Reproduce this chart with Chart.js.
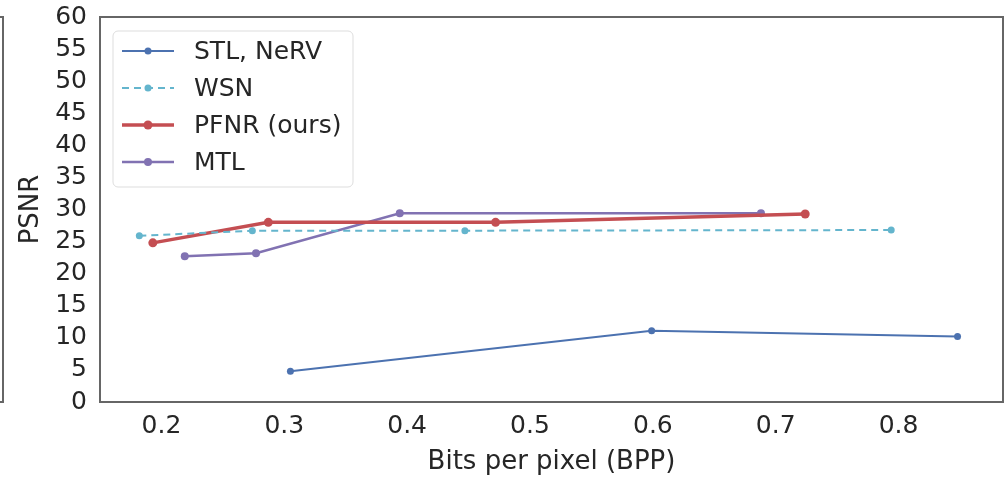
<!DOCTYPE html>
<html>
<head>
<meta charset="utf-8">
<script src="https://cdn.jsdelivr.net/npm/chart.js@4.4.1/dist/chart.umd.min.js"></script>
<style>
  html, body { margin: 0; padding: 0; background: #fff; }
  #wrap { width: 1008px; height: 478px; }
</style>
</head>
<body>
<div id="wrap"><canvas id="psnrChart"></canvas></div>
<script>
// values
const seriesNames = ['STL, NeRV', 'WSN', 'PFNR (ours)', 'MTL'];
const stlX = [0.305, 0.599, 0.848];
const stlY = [4.8, 11.1, 10.2];
const wsnX = [0.182, 0.274, 0.447, 0.794];
const wsnY = [25.9, 26.7, 26.7, 26.8];
const pfnrX = [0.193, 0.287, 0.472, 0.724];
const pfnrY = [24.8, 28.0, 28.0, 29.3];
const mtlX = [0.219, 0.277, 0.394, 0.688];
const mtlY = [22.7, 23.2, 29.4, 29.4];
const xTicks = [0.2, 0.3, 0.4, 0.5, 0.6, 0.7, 0.8];

const FONT = "'DejaVu Sans', sans-serif";
const TEXT = '#262626';

function pts(xs, ys) {
    return xs.map((x, i) => ({x: x, y: ys[i]}));
}

function series(label, xs, ys, color, width, radius, dash) {
    return {
        label: label,
        data: pts(xs, ys),
        borderColor: color,
        backgroundColor: color,
        borderWidth: width,
        borderDash: dash || [],
        pointRadius: radius,
        pointHoverRadius: radius,
        pointBorderWidth: 0,
        tension: 0
    };
}

// frame around the plot, the edge of the neighbouring panel, and the legend box
const framePlugin = {
    id: 'frame',
    afterDraw(chart) {
        const ctx = chart.ctx;
        const a = chart.chartArea;
        ctx.save();
        ctx.strokeStyle = '#666';
        ctx.lineWidth = 2;
        ctx.strokeRect(a.left, a.top, a.right - a.left, a.bottom - a.top);

        // right edge of the panel cut off at the left
        ctx.beginPath();
        ctx.moveTo(0, a.top);
        ctx.lineTo(3, a.top);
        ctx.lineTo(3, a.bottom);
        ctx.lineTo(0, a.bottom);
        ctx.stroke();

        // legend
        const bx = a.left + 13, by = a.top + 14, bw = 240, bh = 156;
        ctx.beginPath();
        ctx.roundRect(bx, by, bw, bh, 5);
        ctx.fillStyle = 'rgba(255,255,255,0.85)';
        ctx.fill();
        ctx.strokeStyle = '#dddddd';
        ctx.lineWidth = 1;
        ctx.stroke();

        ctx.font = '25px ' + FONT;
        ctx.textBaseline = 'middle';
        chart.data.datasets.forEach((ds, i) => {
            const y = by + 20 + i * 37;
            ctx.strokeStyle = ds.borderColor;
            ctx.lineWidth = ds.borderWidth;
            ctx.setLineDash(ds.borderDash);
            ctx.beginPath();
            ctx.moveTo(bx + 9, y);
            ctx.lineTo(bx + 61, y);
            ctx.stroke();
            ctx.setLineDash([]);
            ctx.fillStyle = ds.borderColor;
            ctx.beginPath();
            ctx.arc(bx + 35, y, ds.pointRadius, 0, Math.PI * 2);
            ctx.fill();
            ctx.fillStyle = TEXT;
            ctx.fillText(ds.label, bx + 81, y + 1);
        });
        ctx.restore();
    }
};

new Chart(document.getElementById('psnrChart'), {
    type: 'line',
    data: {
        datasets: [
            series(seriesNames[0], stlX, stlY, '#4C72B0', 2, 3.5),
            series(seriesNames[1], wsnX, wsnY, '#64B5CD', 2, 3.5, [7, 5]),
            series(seriesNames[2], pfnrX, pfnrY, '#C44E52', 3.5, 4.5),
            series(seriesNames[3], mtlX, mtlY, '#8172B2', 2.5, 4)
        ]
    },
    options: {
        responsive: true,
        maintainAspectRatio: false,
        animation: false,
        layout: { padding: { top: 17, right: 5, left: 0, bottom: 0 } },
        plugins: {
            legend: { display: false },
            tooltip: { enabled: false }
        },
        scales: {
            x: {
                type: 'linear',
                min: 0.15,
                max: 0.885,
                grid: { display: false, drawTicks: false },
                border: { display: false },
                afterBuildTicks(scale) {
                    scale.ticks = xTicks.map(v => ({value: v}));
                },
                afterFit(scale) {
                    scale.height = 76;
                    scale.paddingRight = 0;
                },
                ticks: {
                    font: { family: FONT, size: 25 },
                    color: TEXT,
                    padding: 9,
                    autoSkip: false,
                    callback: v => v.toFixed(1)
                },
                title: {
                    display: true,
                    text: 'Bits per pixel (BPP)',
                    font: { family: FONT, size: 26 },
                    color: TEXT,
                    padding: { top: 2, bottom: 0 }
                }
            },
            y: {
                min: 0,
                max: 60,
                grid: { display: false, drawTicks: false },
                border: { display: false },
                afterFit(scale) {
                    scale.width = 100;
                    scale.paddingTop = 0;
                    scale.paddingBottom = 0;
                },
                ticks: {
                    stepSize: 5,
                    autoSkip: false,
                    font: { family: FONT, size: 25 },
                    color: TEXT,
                    padding: 13
                },
                title: {
                    display: true,
                    text: 'PSNR',
                    font: { family: FONT, size: 26 },
                    color: TEXT,
                    padding: { top: 16, bottom: 0 }
                }
            }
        }
    },
    plugins: [framePlugin]
});
</script>
</body>
</html>
